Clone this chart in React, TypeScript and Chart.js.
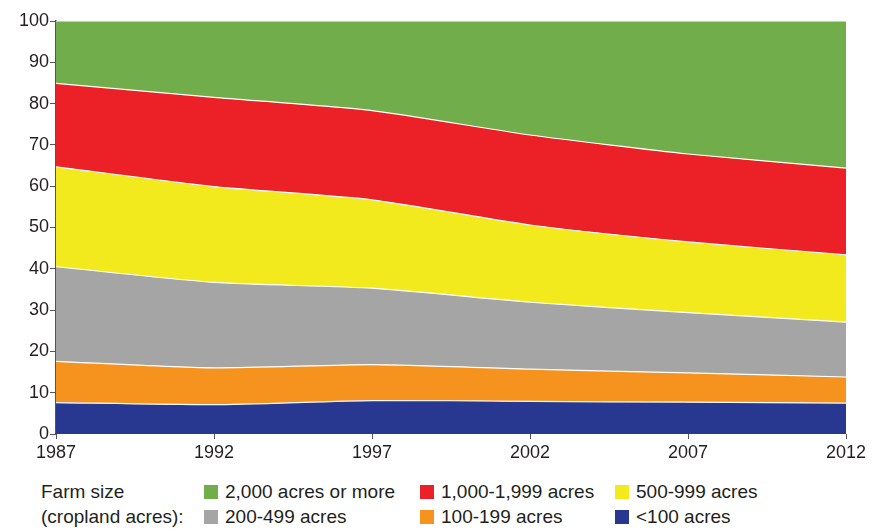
import React, { useEffect, useRef } from "react";
import { Chart, registerables } from "chart.js";

Chart.register(...registerables);

const years = ["1987", "1992", "1997", "2002", "2007", "2012"];
const yTicks = [0, 10, 20, 30, 40, 50, 60, 70, 80, 90, 100];

const under100 = [7.6, 7.1, 8.1, 7.9, 7.7, 7.5];
const acres100to199 = [10.0, 8.9, 8.7, 7.8, 7.1, 6.3];
const acres200to499 = [22.9, 20.7, 18.5, 16.2, 14.6, 13.3];
const acres500to999 = [24.2, 23.2, 21.4, 18.7, 17.1, 16.3];
const acres1000to1999 = [20.2, 21.6, 21.6, 21.8, 21.3, 21.0];
const acres2000plus = [15.1, 18.5, 21.7, 27.6, 32.2, 35.6];

const seriesNames = [
  "<100 acres",
  "100-199 acres",
  "200-499 acres",
  "500-999 acres",
  "1,000-1,999 acres",
  "2,000 acres or more",
];
const seriesColors = ["#283891", "#F6921E", "#A4A5A4", "#F2EA1D", "#EC2027", "#72AD4B"];
const seriesData = [under100, acres100to199, acres200to499, acres500to999, acres1000to1999, acres2000plus];

// legend layout order (row-major): index into series arrays
const legendOrder = [5, 4, 3, 2, 1, 0];

const FONT = "'Liberation Sans', Arial, Helvetica, sans-serif";

export default function App() {
  const canvasRef = useRef<HTMLCanvasElement | null>(null);

  useEffect(() => {
    if (!canvasRef.current) return;
    const chart = new Chart(canvasRef.current, {
      type: "line",
      data: {
        labels: years,
        datasets: seriesData.map((d, i) => ({
          label: seriesNames[i],
          data: d,
          backgroundColor: seriesColors[i],
          borderColor: "#ffffff",
          borderWidth: 1.2,
          pointRadius: 0,
          tension: 0.2,
          fill: i === 0 ? "origin" : "-1",
        })),
      },
      options: {
        animation: false,
        responsive: true,
        maintainAspectRatio: false,
        layout: { padding: { left: 0, right: 40, top: 21, bottom: 0 } },
        plugins: { legend: { display: false }, tooltip: { enabled: false } },
        scales: {
          x: {
            offset: false,
            grid: {
              drawOnChartArea: false,
              drawTicks: true,
              tickLength: 5,
              color: "#555",
              offset: false,
            },
            border: { display: false },
            ticks: { color: "#231f20", font: { size: 18, family: FONT }, padding: 3, maxRotation: 0 },
            afterFit: (scale: any) => {
              scale.height = 36;
            },
          },
          y: {
            stacked: true,
            min: 0,
            max: 100,
            afterBuildTicks: (scale: any) => {
              scale.ticks = yTicks.map((v) => ({ value: v }));
            },
            grid: {
              drawOnChartArea: false,
              drawTicks: true,
              tickLength: 6,
              color: "#555",
            },
            border: { display: true, color: "#555", width: 1.5 },
            ticks: { color: "#231f20", font: { size: 18, family: FONT }, padding: 1 },
            afterFit: (scale: any) => {
              scale.width = 56;
            },
          },
        },
      },
    });
    return () => chart.destroy();
  }, []);

  const legendStyle: React.CSSProperties = {
    position: "absolute",
    fontFamily: FONT,
    fontSize: 19,
    color: "#231f20",
    lineHeight: "22px",
    whiteSpace: "nowrap",
  };

  const colX = [204, 420, 615];
  const rowY = [492, 517];

  return (
    <div style={{ position: "absolute", left: 0, top: 0, width: 886, height: 532, background: "#fff" }}>
      <div style={{ position: "absolute", left: 0, top: 0, width: 886, height: 470 }}>
        <canvas ref={canvasRef} />
      </div>
      <div style={{ ...legendStyle, left: 41, top: rowY[0] - 11 }}>Farm size</div>
      <div style={{ ...legendStyle, left: 41, top: rowY[1] - 11 }}>(cropland acres):</div>
      {legendOrder.map((si, k) => {
        const col = k % 3;
        const row = Math.floor(k / 3);
        return (
          <React.Fragment key={si}>
            <div
              style={{
                position: "absolute",
                left: colX[col],
                top: rowY[row] - 7,
                width: 14,
                height: 14,
                background: seriesColors[si],
              }}
            />
            <div style={{ ...legendStyle, left: colX[col] + 21, top: rowY[row] - 11 }}>{seriesNames[si]}</div>
          </React.Fragment>
        );
      })}
    </div>
  );
}
